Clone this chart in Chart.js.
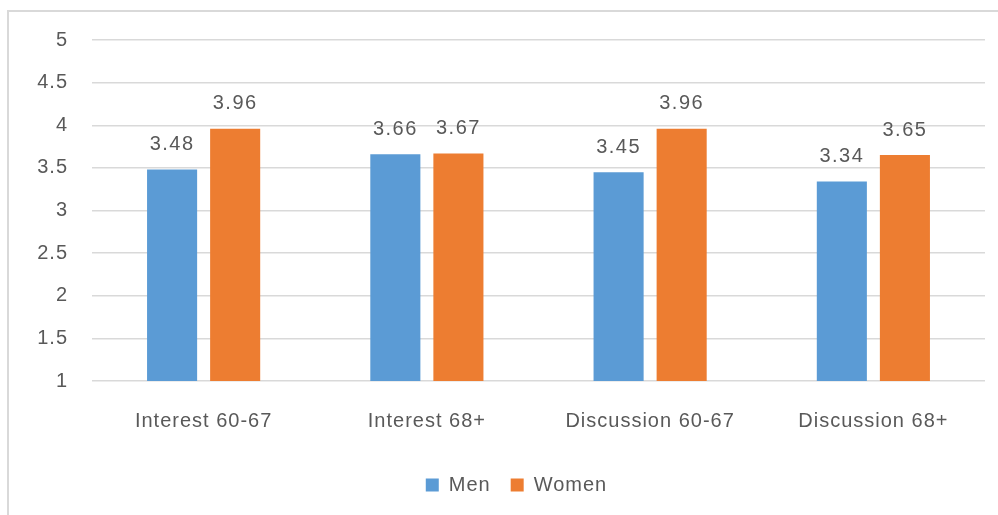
<!DOCTYPE html>
<html>
<head>
<meta charset="utf-8">
<script src="https://cdn.jsdelivr.net/npm/chart.js@4/dist/chart.umd.min.js"></script>
<style>
  html, body { margin: 0; padding: 0; background: #ffffff; }
  #wrap { width: 998px; height: 515px; position: relative; }
</style>
</head>
<body>
<div id="wrap"><canvas id="c"></canvas></div>
<script>
// Categories and series values
const categories = ['Interest 60-67', 'Interest 68+', 'Discussion 60-67', 'Discussion 68+'];
const menValues = [3.48, 3.66, 3.45, 3.34];
const womenValues = [3.96, 3.67, 3.96, 3.65];
const seriesNames = ['Men', 'Women'];
const yTicks = [1, 1.5, 2, 2.5, 3, 3.5, 4, 4.5, 5];

const FONT = '"Liberation Sans", Arial, sans-serif';
const TEXT = '#595959';

// Slightly open letter spacing for all chart text
const spacingPlugin = {
  id: 'spacing',
  beforeInit(chart) { chart.ctx.letterSpacing = '1px'; },
  beforeUpdate(chart) { chart.ctx.letterSpacing = '1px'; },
  // The frame runs past the right edge, so the legend sits a little right of centre
  afterLayout(chart) {
    if (chart.legend) {
      chart.legend.left += 20;
      chart.legend.right += 20;
    }
  }
};

// Light grey frame around the chart
const framePlugin = {
  id: 'frame',
  beforeDraw(chart) {
    const ctx = chart.ctx;
    ctx.letterSpacing = '1px';
    ctx.save();
    ctx.fillStyle = '#ffffff';
    ctx.fillRect(0, 0, chart.width, chart.height);
    ctx.strokeStyle = '#d9d9d9';
    ctx.lineWidth = 2;
    ctx.strokeRect(8, 11, chart.width + 10, chart.height + 10);
    ctx.restore();
  }
};

// Value labels above each bar
const valueLabels = {
  id: 'valueLabels',
  afterDatasetsDraw(chart) {
    const ctx = chart.ctx;
    ctx.save();
    ctx.letterSpacing = '1.5px';
    ctx.font = '20px ' + FONT;
    ctx.fillStyle = TEXT;
    ctx.textAlign = 'center';
    ctx.textBaseline = 'middle';
    chart.data.datasets.forEach((ds, i) => {
      const meta = chart.getDatasetMeta(i);
      meta.data.forEach((bar, j) => {
        ctx.fillText(ds.data[j].toFixed(2), bar.x, bar.y - 25);
      });
    });
    ctx.restore();
  }
};

new Chart(document.getElementById('c'), {
  type: 'bar',
  data: {
    labels: categories,
    datasets: [
      { label: seriesNames[0], data: menValues, backgroundColor: '#5b9bd5', borderWidth: 0,
        categoryPercentage: 0.565, barPercentage: 0.794 },
      { label: seriesNames[1], data: womenValues, backgroundColor: '#ed7d31', borderWidth: 0,
        categoryPercentage: 0.565, barPercentage: 0.794 }
    ]
  },
  options: {
    responsive: true,
    maintainAspectRatio: false,
    animation: false,
    layout: { padding: { left: 8, right: 13, top: 40, bottom: 10 } },
    plugins: {
      legend: {
        position: 'bottom',
        labels: {
          boxWidth: 13, boxHeight: 13, padding: 20,
          color: TEXT, font: { family: FONT, size: 20 }
        }
      },
      tooltip: { enabled: false }
    },
    scales: {
      x: {
        grid: { display: false, drawTicks: false },
        border: { display: false },
        ticks: { color: TEXT, font: { family: FONT, size: 20 }, padding: 28 },
        afterFit(scale) { scale.height = 74; }
      },
      y: {
        min: 1, max: 5,
        afterBuildTicks(scale) { scale.ticks = yTicks.map(v => ({ value: v })); },
        grid: { color: '#d9d9d9', lineWidth: 1.5, drawTicks: false },
        border: { display: false },
        ticks: { color: TEXT, font: { family: FONT, size: 20 }, padding: 24,
                 callback: v => String(v) },
        afterFit(scale) { scale.width = 84; }
      }
    }
  },
  plugins: [spacingPlugin, framePlugin, valueLabels]
});
</script>
</body>
</html>
